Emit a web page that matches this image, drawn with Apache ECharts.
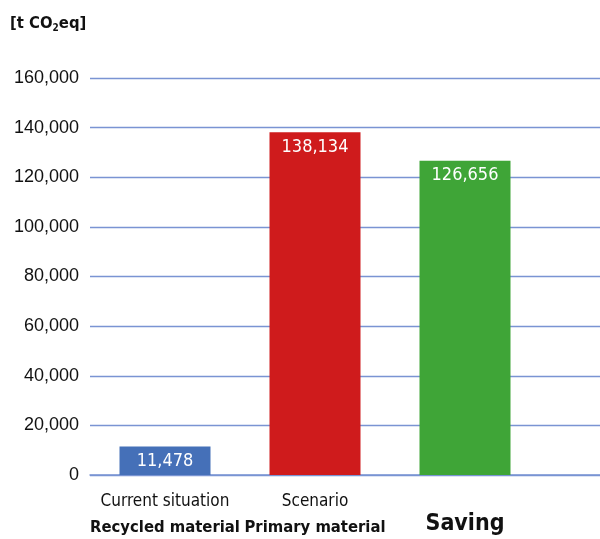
<!DOCTYPE html>
<html>
<head>
<meta charset="utf-8">
<script src="https://cdn.jsdelivr.net/npm/echarts@6/dist/echarts.min.js"></script>
<style>
  html, body { margin: 0; padding: 0; background: #fff; }
  #chart { width: 600px; height: 539px; }
</style>
</head>
<body>
<div id="chart"></div>
<script>
// Emissions per case, t CO2eq
const categories = ['Current situation|Recycled material', 'Scenario|Primary material', 'Saving'];
const values = [11478, 138134, 126656];
const barColors = ['#4570b8', '#cf1b1c', '#3fa537'];
const yTicks = { min: 0, max: 160000, interval: 20000 };

const NARROW = '"Liberation Sans Narrow", "DejaVu Sans Condensed", "Roboto Condensed", sans-serif';
const GRID_LINE = '#7a94d3';

const chart = echarts.init(document.getElementById('chart'));
chart.setOption({
  animation: false,
  title: {
    text: '{a|[t CO}{s|2}{a|eq]}',
    left: 5,
    top: 9,
    textStyle: {
      rich: {
        a: { fontFamily: NARROW, fontWeight: 'bold', fontSize: 16.5, color: '#111' },
        s: { fontFamily: NARROW, fontWeight: 'bold', fontSize: 10, color: '#111', padding: [9, 0, 0, 0] }
      }
    }
  },
  grid: [
    // plotting area holding the bars
    { left: 90, right: 60, top: 78, bottom: 64 },
    // wider area carrying the horizontal gridlines to the right edge
    { left: 90, right: 0, top: 78, bottom: 64 }
  ],
  xAxis: [{
    type: 'category',
    gridIndex: 0,
    data: categories,
    axisLine: { show: false },
    axisTick: { show: false },
    axisLabel: {
      interval: 0,
      margin: 14,
      formatter: function (v) {
        if (v === 'Saving') return '{big|Saving}';
        const parts = v.split('|');
        return '{r|' + parts[0] + '}\n{b|' + parts[1] + '}';
      },
      rich: {
        r: { fontFamily: NARROW, fontSize: 17, color: '#111', lineHeight: 26 },
        b: { fontFamily: NARROW, fontSize: 16.5, fontWeight: 'bold', color: '#111', lineHeight: 26 },
        big: { fontFamily: NARROW, fontSize: 23, fontWeight: 'bold', color: '#111', lineHeight: 30, padding: [40, 0, 0, 0] }
      }
    }
  }, {
    type: 'value',
    gridIndex: 1,
    min: 0,
    max: 1,
    show: true,
    axisLine: { show: true, lineStyle: { color: GRID_LINE, width: 1.5 } },
    axisTick: { show: false },
    axisLabel: { show: false },
    splitLine: { show: false }
  }],
  yAxis: [{
    type: 'value',
    gridIndex: 0,
    min: yTicks.min,
    max: yTicks.max,
    interval: yTicks.interval,
    axisLine: { show: false },
    axisTick: { show: false },
    splitLine: { show: false },
    axisLabel: {
      margin: 11,
      fontFamily: '"Liberation Sans", Arial, sans-serif',
      fontSize: 18,
      color: '#111',
      formatter: function (v) { return v.toLocaleString('en-US'); }
    }
  }, {
    type: 'value',
    gridIndex: 1,
    min: yTicks.min,
    max: yTicks.max,
    interval: yTicks.interval,
    axisLine: { show: false },
    axisTick: { show: false },
    axisLabel: { show: false },
    splitLine: { lineStyle: { color: GRID_LINE, width: 1.3 } }
  }],
  series: [{
    type: 'bar',
    xAxisIndex: 0,
    yAxisIndex: 0,
    barWidth: 91,
    z: 3,
    data: values.map(function (v, i) {
      return { value: v, itemStyle: { color: barColors[i] } };
    }),
    label: {
      show: true,
      position: 'insideTop',
      distance: 6,
      fontFamily: NARROW,
      fontSize: 18,
      color: '#fff',
      formatter: function (p) { return p.value.toLocaleString('en-US'); }
    }
  }]
});
</script>
</body>
</html>
